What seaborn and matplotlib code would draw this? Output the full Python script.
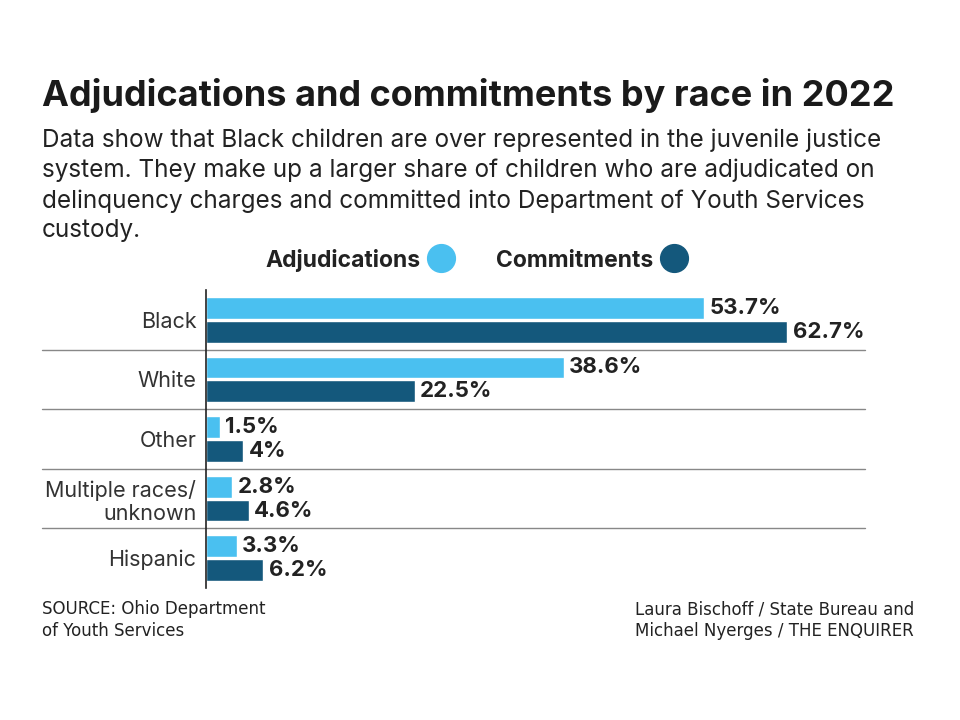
import pandas as pd
import matplotlib.pyplot as plt
import seaborn as sns
from matplotlib.lines import Line2D

# Данные
races = ["Black", "White", "Other", "Multiple races/\nunknown", "Hispanic"]
adjudications = [53.7, 38.6, 1.5, 2.8, 3.3]
commitments = [62.7, 22.5, 4.0, 4.6, 6.2]
series = ["Adjudications", "Commitments"]
colors = ["#4AC0F0", "#14587C"]

df = pd.DataFrame({
    "race": races * 2,
    "share": adjudications + commitments,
    "type": [series[0]] * len(races) + [series[1]] * len(races),
})

sns.set_theme(style="white")
plt.rcParams["font.family"] = ["Inter", "DejaVu Sans"]

fig = plt.figure(figsize=(9.6, 7.2), dpi=100)
ax = fig.add_axes([206 / 960, 1 - 588 / 720, 659 / 960, 298 / 720])

sns.barplot(data=df, y="race", x="share", hue="type", orient="h",
            palette=colors, width=0.8, gap=0.08, ax=ax, legend=False,
            saturation=1)

ax.set_xlim(0, 71.1)
ax.set_ylim(4.5, -0.5)
ax.set_xlabel("")
ax.set_ylabel("")
ax.set_xticks([])
ax.tick_params(axis="y", length=0, pad=7, labelsize=15.5, labelcolor="#333333")
for s in ["top", "right", "bottom"]:
    ax.spines[s].set_visible(False)
ax.spines["left"].set_color("#222222")
ax.spines["left"].set_linewidth(1.2)

# разделители между категориями
for y in [0.5, 1.5, 2.5, 3.5]:
    ax.axhline(y, xmin=-0.249, xmax=1.0, color="#888888", lw=1, clip_on=False)

# подписи значений
for cont in ax.containers:
    ax.bar_label(cont, labels=[f"{v:g}%" for v in cont.datavalues],
                 padding=4, fontsize=16, fontweight="bold", color="#222222")

# заголовок и подзаголовок
fig.text(42 / 960, 1 - 106 / 720, "Adjudications and commitments by race in 2022",
         fontsize=26, fontweight="bold", color="#1a1a1a", ha="left", va="baseline")
subtitle = ("Data show that Black children are over represented in the juvenile justice\n"
            "system. They make up a larger share of children who are adjudicated on\n"
            "delinquency charges and committed into Department of Youth Services\n"
            "custody.")
fig.text(42 / 960, 1 - 128 / 720, subtitle, fontsize=17.5, color="#222222",
         ha="left", va="top", linespacing=1.38)

# легенда
handles = [Line2D([], [], marker="o", ls="", markersize=20, color=c) for c in colors]
leg = fig.legend(handles, series, ncol=2, markerfirst=False, frameon=False,
                 loc="center", bbox_to_anchor=(475 / 960, 1 - 260 / 720),
                 prop={"weight": "bold", "size": 16.5}, handletextpad=0.4,
                 columnspacing=1.9, handlelength=1.0)
for t in leg.get_texts():
    t.set_color("#222222")

# подвал
foot = ["Liberation Sans Narrow", "DejaVu Sans"]
fig.text(42 / 960, 1 - 600 / 720, "SOURCE: Ohio Department\nof Youth Services",
         fontsize=12, color="#222222", ha="left", va="top", family=foot,
         linespacing=1.3)
fig.text(914 / 960, 1 - 600 / 720, "Laura Bischoff / State Bureau and\nMichael Nyerges / THE ENQUIRER",
         fontsize=12, color="#222222", ha="right", va="top", family=foot,
         linespacing=1.3, multialignment="left")

fig.savefig("out.png", dpi=100)
